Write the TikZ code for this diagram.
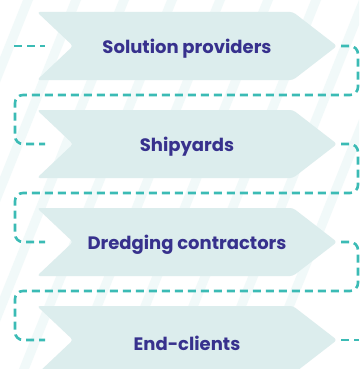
\documentclass[tikz,border=0pt]{standalone}
\usepackage{fontspec}
\newfontfamily\lab{Poppins}
\definecolor{shapefill}{HTML}{DCEDED}
\definecolor{txt}{HTML}{37318D}
\definecolor{dashc}{HTML}{3BBBB5}
\definecolor{stripe}{HTML}{F1F9F9}
\tikzset{
 chev/.style={fill=shapefill, rounded corners=3pt},
 lbl/.style={font=\lab\bfseries\fontsize{18}{20}\selectfont, text=txt, inner sep=0pt},
 conn/.style={draw=dashc, line width=2.6pt, dash pattern=on 8pt off 5pt, rounded corners=8pt},
 stripeband/.style={fill=stripe}
}
\begin{document}
\begin{tikzpicture}[x=1pt,y=-1pt]
\useasboundingbox (0,0) rectangle (359,369);
\fill[white] (0,0) rectangle (359,369);
\begin{scope}
\clip (0,0) rectangle (359,369);
\foreach \k in {-4,...,8} {
  \fill[stripeband] ({28+48*\k-5},0) -- ++(10,0) -- ++(-148,369) -- ++(-10,0) -- cycle;
}
\end{scope}
\foreach \i/\t/\n in {0/Solution providers/a, 1/Shipyards/b, 2/Dredging contractors/c, 3/End-clients/d} {
  \pgfmathsetmacro\yc{46+98*\i}
  \fill[chev] (73,\yc) -- (37,\yc-34) -- (293,\yc-34) -- (337,\yc) -- (293,\yc+34) -- (37,\yc+34) -- cycle;
  \node[lbl] (lab\n) at (187,\yc+3) {\t};
  \coordinate (in\n) at (45,\yc);
  \coordinate (out\n) at (341,\yc);
}
\coordinate (rx) at (358,0);
\coordinate (lx) at (15,0);
\coordinate (gap1) at (0,95);
\coordinate (gap2) at (0,193);
\coordinate (gap3) at (0,291);
\coordinate (start) at (14,46);
\coordinate (finish) at (359,340);
\draw[conn] (start) -- (ina);
\draw[conn] (outa) -- (outa -| rx) -- (rx |- gap1) -- (lx |- gap1) -- (lx |- inb) -- (inb);
\draw[conn] (outb) -- (outb -| rx) -- (rx |- gap2) -- (lx |- gap2) -- (lx |- inc) -- (inc);
\draw[conn] (outc) -- (outc -| rx) -- (rx |- gap3) -- (lx |- gap3) -- (lx |- ind) -- (ind);
\draw[conn] (outd) -- (finish);
\end{tikzpicture}
\end{document}
